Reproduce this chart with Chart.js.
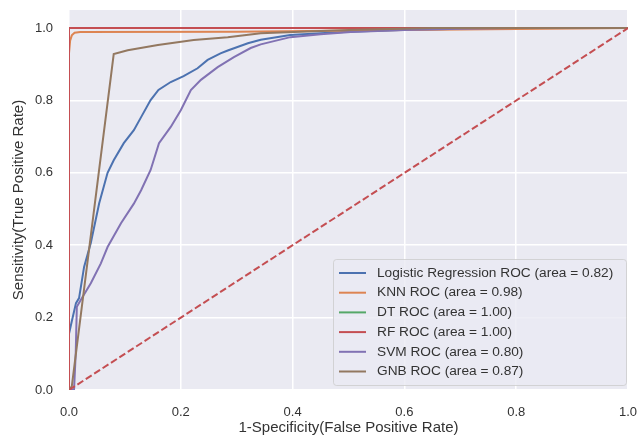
<!DOCTYPE html>
<html>
<head>
<meta charset="utf-8">
<script src="https://cdn.jsdelivr.net/npm/chart.js@4.4.1/dist/chart.umd.min.js"></script>
<style>
  body { margin: 0; background: #fff; }
  #wrap { width: 637px; height: 437px; }
</style>
</head>
<body>
<div id="wrap"><canvas id="myChart" width="637" height="437"></canvas></div>
<script>
// ROC curve points (false positive rate / true positive rate)
const lrX = [0, 0, 0.005, 0.0125, 0.018, 0.027, 0.039, 0.054, 0.069, 0.08, 0.098, 0.116, 0.129, 0.146, 0.16, 0.182, 0.205, 0.23, 0.248, 0.271, 0.284, 0.32, 0.343, 0.396, 0.45, 0.5, 0.593, 0.7, 0.8, 1.0];
const lrY = [0, 0.155, 0.19, 0.24, 0.254, 0.34, 0.406, 0.516, 0.6, 0.635, 0.682, 0.718, 0.754, 0.801, 0.829, 0.851, 0.867, 0.889, 0.912, 0.93, 0.938, 0.958, 0.968, 0.981, 0.986, 0.99, 0.995, 0.998, 1.0, 1.0];

const knnX = [0, 0, 0.002, 0.005, 0.01, 0.02, 0.3, 0.6, 1.0];
const knnY = [0, 0.93, 0.965, 0.98, 0.987, 0.989, 0.99, 0.995, 1.0];

const dtX = [0, 0, 1];
const dtY = [0, 1, 1];

const rfX = [0, 0, 1];
const rfY = [0, 1, 1];

const svmX = [0, 0.009, 0.012, 0.014, 0.021, 0.039, 0.057, 0.069, 0.093, 0.116, 0.129, 0.146, 0.161, 0.182, 0.2, 0.218, 0.236, 0.266, 0.295, 0.325, 0.343, 0.396, 0.45, 0.504, 0.6, 0.7, 0.8, 1.0];
const svmY = [0, 0, 0.1, 0.23, 0.249, 0.295, 0.35, 0.395, 0.461, 0.515, 0.552, 0.608, 0.682, 0.727, 0.773, 0.829, 0.857, 0.892, 0.92, 0.945, 0.955, 0.975, 0.983, 0.989, 0.995, 0.998, 1.0, 1.0];

const gnbX = [0, 0.005, 0.08, 0.105, 0.159, 0.223, 0.284, 0.343, 0.414, 0.5, 0.65, 1.0];
const gnbY = [0, 0.01, 0.928, 0.939, 0.953, 0.967, 0.975, 0.986, 0.99, 0.995, 1.0, 1.0];

const diagX = [0, 1];
const diagY = [0, 1];

const labels = [
  'Logistic Regression ROC (area = 0.82)',
  'KNN ROC (area = 0.98)',
  'DT ROC (area = 1.00)',
  'RF ROC (area = 1.00)',
  'SVM ROC (area = 0.80)',
  'GNB ROC (area = 0.87)'
];
const colors = ['#4C72B0', '#DD8452', '#55A868', '#C44E52', '#8172B3', '#937860'];
const tickVals = [0, 0.2, 0.4, 0.6, 0.8, 1.0];

function pts(xs, ys) {
  return xs.map((x, i) => ({x: x, y: ys[i]}));
}

const series = [[lrX, lrY], [knnX, knnY], [dtX, dtY], [rfX, rfY], [svmX, svmY], [gnbX, gnbY]];
const datasets = series.map((s, i) => ({
  label: labels[i],
  data: pts(s[0], s[1]),
  borderColor: colors[i],
  borderWidth: 2,
  showLine: true,
  pointRadius: 0,
  tension: 0,
  order: 10 - i
}));
datasets.push({
  label: 'diag',
  data: pts(diagX, diagY),
  borderColor: '#C44E52',
  borderWidth: 2,
  borderDash: [7, 3],
  showLine: true,
  pointRadius: 0,
  order: 0
});

const FONT = "'Liberation Sans', Arial, sans-serif";
const TXT = '#333333';

// seaborn darkgrid background
const bgPlugin = {
  id: 'bg',
  beforeDraw(chart) {
    const {ctx, chartArea: a} = chart;
    ctx.save();
    ctx.fillStyle = '#EAEAF2';
    ctx.fillRect(a.left, a.top, a.right - a.left, a.bottom - a.top);
    ctx.restore();
  }
};

// legend inside the axes, lower right
const boxLegend = {
  id: 'boxLegend',
  afterDatasetsDraw(chart) {
    const ctx = chart.ctx;
    const bx = 333, by = 259, bw = 293, bh = 126;
    ctx.save();
    ctx.fillStyle = 'rgba(234,234,242,0.8)';
    ctx.strokeStyle = 'rgba(204,204,204,0.8)';
    ctx.lineWidth = 1;
    ctx.beginPath();
    ctx.roundRect(bx + 0.5, by + 0.5, bw, bh, 3);
    ctx.fill();
    ctx.stroke();
    ctx.font = '13.7px ' + FONT;
    ctx.textBaseline = 'middle';
    ctx.fillStyle = TXT;
    for (let i = 0; i < labels.length; i++) {
      const y = 273 + i * 19.7;
      ctx.strokeStyle = colors[i];
      ctx.lineWidth = 2;
      ctx.beginPath();
      ctx.moveTo(339, y);
      ctx.lineTo(366, y);
      ctx.stroke();
      ctx.fillText(labels[i], 377, y);
    }
    ctx.restore();
  }
};

const gridOpts = {color: '#ffffff', lineWidth: 1.5, drawTicks: false};

function noPad(s) {
  s.paddingTop = 0;
  s.paddingBottom = 0;
  s.paddingLeft = 0;
  s.paddingRight = 0;
}

const ctx = document.getElementById('myChart').getContext('2d');
const myChart = new Chart(ctx, {
  type: 'scatter',
  data: {datasets: datasets},
  options: {
    responsive: false,
    animation: false,
    layout: {padding: {top: 10, right: 9, left: 0, bottom: 0}},
    plugins: {legend: {display: false}, tooltip: {enabled: false}},
    scales: {
      x: {
        type: 'linear',
        min: 0,
        max: 1,
        grid: gridOpts,
        border: {display: false},
        afterBuildTicks: (s) => { s.ticks = tickVals.map(v => ({value: v})); },
        afterFit: (s) => { s.height = 47; noPad(s); },
        ticks: {
          color: TXT,
          padding: 15,
          font: {family: FONT, size: 13},
          maxRotation: 0,
          callback: (v) => Number(v).toFixed(1)
        },
        title: {
          display: true,
          text: '1-Specificity(False Positive Rate)',
          color: TXT,
          font: {family: FONT, size: 15},
          padding: {top: 0, bottom: 0}
        }
      },
      y: {
        type: 'linear',
        min: 0,
        max: 1.05,
        grid: gridOpts,
        border: {display: false},
        afterBuildTicks: (s) => { s.ticks = tickVals.map(v => ({value: v})); },
        afterFit: (s) => { s.width = 69; noPad(s); },
        ticks: {
          color: TXT,
          padding: 16,
          font: {family: FONT, size: 13},
          callback: (v) => Number(v).toFixed(1)
        },
        title: {
          display: true,
          text: 'Sensitivity(True Positive Rate)',
          color: TXT,
          font: {family: FONT, size: 15},
          padding: {top: 10, bottom: 0}
        }
      }
    }
  },
  plugins: [bgPlugin, boxLegend]
});
</script>
</body>
</html>
